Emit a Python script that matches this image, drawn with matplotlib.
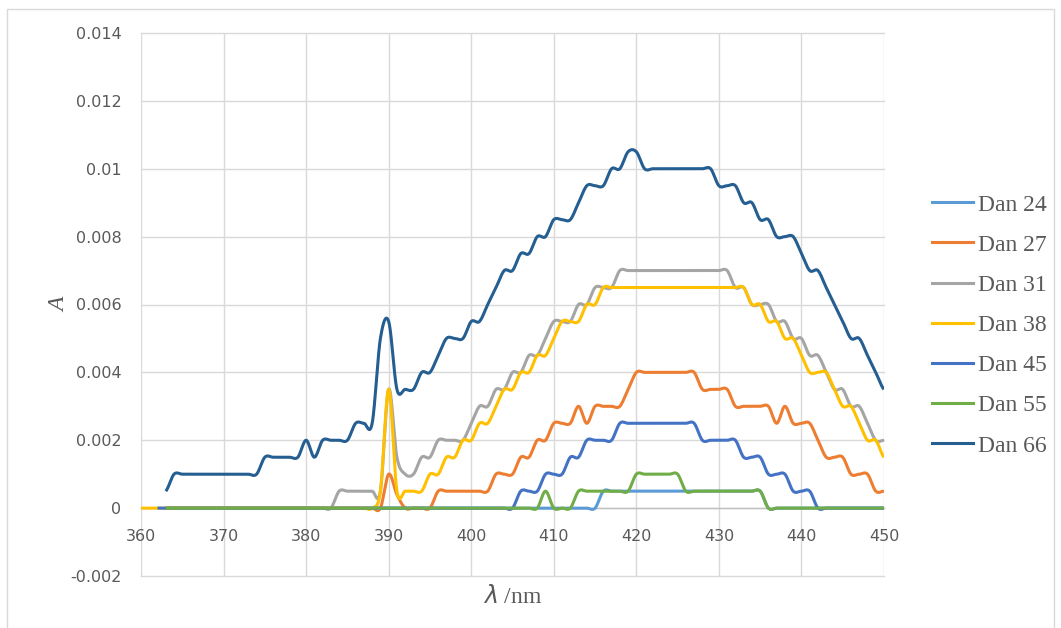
import numpy as np
import matplotlib
matplotlib.use("Agg")
import matplotlib.pyplot as plt
from matplotlib.patches import Rectangle
from matplotlib.lines import Line2D

# ---------------- data (1 nm steps) ----------------
series_names = ["Dan 24", "Dan 27", "Dan 31", "Dan 38", "Dan 45", "Dan 55", "Dan 66"]
series_colors = ["#5B9BD5", "#ED7D31", "#A5A5A5", "#FFC000", "#4472C4", "#70AD47", "#255E91"]

start_dan24 = 363
dan24 = [
    0, 0, 0, 0, 0, 0, 0, 0, 0, 0,                # 363-372
    0, 0, 0, 0, 0, 0, 0, 0, 0, 0,                # 373-382
    0, 0, 0, 0, 0, 0, 0, 0, 0, 0,                # 383-392
    0, 0, 0, 0, 0, 0, 0, 0, 0, 0,                # 393-402
    0, 0, 0, 0, 0, 0, 0, 0, 0, 0,                # 403-412
    0, 0, 0, 0.0005, 0.0005, 0.0005, 0.0005, 0.0005, 0.0005, 0.0005,   # 413-422
    0.0005, 0.0005, 0.0005, 0.0005, 0.0005, 0.0005, 0.0005, 0.0005, 0.0005, 0.0005,  # 423-432
    0.0005, 0.0005, 0.0005, 0, 0, 0, 0, 0, 0, 0,  # 433-442
    0, 0, 0, 0, 0, 0, 0, 0,                      # 443-450
]

start_dan27 = 363
dan27 = [
    0, 0, 0, 0, 0, 0, 0, 0, 0, 0,                # 363-372
    0, 0, 0, 0, 0, 0, 0, 0, 0, 0,                # 373-382
    0, 0, 0, 0, 0, 0, 0, 0.001, 0.0004, 0,       # 383-392
    0, 0, 0, 0.0005, 0.0005, 0.0005, 0.0005, 0.0005, 0.0005, 0.0005,  # 393-402
    0.001, 0.001, 0.001, 0.0015, 0.0015, 0.002, 0.002, 0.0025, 0.0025, 0.0025,  # 403-412
    0.003, 0.0025, 0.003, 0.003, 0.003, 0.003, 0.0035, 0.004, 0.004, 0.004,  # 413-422
    0.004, 0.004, 0.004, 0.004, 0.004, 0.0035, 0.0035, 0.0035, 0.0035, 0.003,  # 423-432
    0.003, 0.003, 0.003, 0.003, 0.0025, 0.003, 0.0025, 0.0025, 0.0025, 0.002,  # 433-442
    0.0015, 0.0015, 0.0015, 0.001, 0.001, 0.001, 0.0005, 0.0005,  # 443-450
]

start_dan31 = 363
dan31 = [
    0, 0, 0, 0, 0, 0, 0, 0, 0, 0,                # 363-372
    0, 0, 0, 0, 0, 0, 0, 0, 0, 0,                # 373-382
    0, 0.0005, 0.0005, 0.0005, 0.0005, 0.0005, 0.0005, 0.0035, 0.0015, 0.001,  # 383-392
    0.001, 0.0015, 0.0015, 0.002, 0.002, 0.002, 0.002, 0.0025, 0.003, 0.003,  # 393-402
    0.0035, 0.0035, 0.004, 0.004, 0.0045, 0.0045, 0.005, 0.0055, 0.0055, 0.0055,  # 403-412
    0.006, 0.006, 0.0065, 0.0065, 0.0065, 0.007, 0.007, 0.007, 0.007, 0.007,  # 413-422
    0.007, 0.007, 0.007, 0.007, 0.007, 0.007, 0.007, 0.007, 0.007, 0.0065,  # 423-432
    0.0065, 0.006, 0.006, 0.006, 0.0055, 0.0055, 0.005, 0.005, 0.0045, 0.0045,  # 433-442
    0.004, 0.0035, 0.0035, 0.003, 0.003, 0.0025, 0.002, 0.002,  # 443-450
]

start_dan38 = 360
dan38 = [
    0, 0, 0,                                     # 360-362
    0, 0, 0, 0, 0, 0, 0, 0, 0, 0,                # 363-372
    0, 0, 0, 0, 0, 0, 0, 0, 0, 0,                # 373-382
    0, 0, 0, 0, 0, 0, 0.0005, 0.0035, 0.0005, 0.0005,  # 383-392
    0.0005, 0.0005, 0.001, 0.001, 0.0015, 0.0015, 0.002, 0.002, 0.0025, 0.0025,  # 393-402
    0.003, 0.0035, 0.0035, 0.004, 0.004, 0.0045, 0.0045, 0.005, 0.0055, 0.0055,  # 403-412
    0.0055, 0.006, 0.006, 0.0065, 0.0065, 0.0065, 0.0065, 0.0065, 0.0065, 0.0065,  # 413-422
    0.0065, 0.0065, 0.0065, 0.0065, 0.0065, 0.0065, 0.0065, 0.0065, 0.0065, 0.0065,  # 423-432
    0.0065, 0.006, 0.006, 0.0055, 0.0055, 0.005, 0.005, 0.0045, 0.004, 0.004,  # 433-442
    0.004, 0.0035, 0.003, 0.003, 0.0025, 0.002, 0.002, 0.0015,  # 443-450
]

start_dan45 = 362
dan45 = [
    0,                                           # 362
    0, 0, 0, 0, 0, 0, 0, 0, 0, 0,                # 363-372
    0, 0, 0, 0, 0, 0, 0, 0, 0, 0,                # 373-382
    0, 0, 0, 0, 0, 0, 0, 0, 0, 0,                # 383-392
    0, 0, 0, 0, 0, 0, 0, 0, 0, 0,                # 393-402
    0, 0, 0, 0.0005, 0.0005, 0.0005, 0.001, 0.001, 0.001, 0.0015,  # 403-412
    0.0015, 0.002, 0.002, 0.002, 0.002, 0.0025, 0.0025, 0.0025, 0.0025, 0.0025,  # 413-422
    0.0025, 0.0025, 0.0025, 0.0025, 0.0025, 0.002, 0.002, 0.002, 0.002, 0.002,  # 423-432
    0.0015, 0.0015, 0.0015, 0.001, 0.001, 0.001, 0.0005, 0.0005, 0.0005, 0,  # 433-442
    0, 0, 0, 0, 0, 0, 0, 0,                      # 443-450
]

start_dan55 = 363
dan55 = [
    0, 0, 0, 0, 0, 0, 0, 0, 0, 0,                # 363-372
    0, 0, 0, 0, 0, 0, 0, 0, 0, 0,                # 373-382
    0, 0, 0, 0, 0, 0, 0, 0, 0, 0,                # 383-392
    0, 0, 0, 0, 0, 0, 0, 0, 0, 0,                # 393-402
    0, 0, 0, 0, 0, 0, 0.0005, 0, 0, 0,           # 403-412
    0.0005, 0.0005, 0.0005, 0.0005, 0.0005, 0.0005, 0.0005, 0.001, 0.001, 0.001,  # 413-422
    0.001, 0.001, 0.001, 0.0005, 0.0005, 0.0005, 0.0005, 0.0005, 0.0005, 0.0005,  # 423-432
    0.0005, 0.0005, 0.0005, 0, 0, 0, 0, 0, 0, 0,  # 433-442
    0, 0, 0, 0, 0, 0, 0, 0,                      # 443-450
]

start_dan66 = 363
dan66 = [
    0.0005, 0.001, 0.001, 0.001, 0.001, 0.001, 0.001, 0.001, 0.001, 0.001,  # 363-372
    0.001, 0.001, 0.0015, 0.0015, 0.0015, 0.0015, 0.0015, 0.002, 0.0015, 0.002,  # 373-382
    0.002, 0.002, 0.002, 0.0025, 0.0025, 0.0025, 0.005, 0.0055, 0.0035, 0.0035,  # 383-392
    0.0035, 0.004, 0.004, 0.0045, 0.005, 0.005, 0.005, 0.0055, 0.0055, 0.006,  # 393-402
    0.0065, 0.007, 0.007, 0.0075, 0.0075, 0.008, 0.008, 0.0085, 0.0085, 0.0085,  # 403-412
    0.009, 0.0095, 0.0095, 0.0095, 0.01, 0.01, 0.0105, 0.0105, 0.01, 0.01,  # 413-422
    0.01, 0.01, 0.01, 0.01, 0.01, 0.01, 0.01, 0.0095, 0.0095, 0.0095,  # 423-432
    0.009, 0.009, 0.0085, 0.0085, 0.008, 0.008, 0.008, 0.0075, 0.007, 0.007,  # 433-442
    0.0065, 0.006, 0.0055, 0.005, 0.005, 0.0045, 0.004, 0.0035,  # 443-450
]

series_starts = [start_dan24, start_dan27, start_dan31, start_dan38, start_dan45, start_dan55, start_dan66]
series_values = [dan24, dan27, dan31, dan38, dan45, dan55, dan66]

x_ticks = [360, 370, 380, 390, 400, 410, 420, 430, 440, 450]
y_ticks = [-0.002, 0, 0.002, 0.004, 0.006, 0.008, 0.01, 0.012, 0.014]
y_tick_labels = ["-0.002", "0", "0.002", "0.004", "0.006", "0.008", "0.01", "0.012", "0.014"]


def smooth(x, y, n=24):
    """Excel-like smoothed line (uniform Catmull-Rom through the points)."""
    x = np.asarray(x, float)
    y = np.asarray(y, float)
    xp = np.concatenate([[2 * x[0] - x[1]], x, [2 * x[-1] - x[-2]]])
    yp = np.concatenate([[y[0]], y, [y[-1]]])
    t = np.linspace(0, 1, n, endpoint=False)
    xs, ys = [], []
    for i in range(1, len(x)):
        for arr, out in ((xp, xs), (yp, ys)):
            p0, p1, p2, p3 = arr[i - 1], arr[i], arr[i + 1], arr[i + 2]
            out.append(0.5 * (2 * p1 + (-p0 + p2) * t
                              + (2 * p0 - 5 * p1 + 4 * p2 - p3) * t ** 2
                              + (-p0 + 3 * p1 - 3 * p2 + p3) * t ** 3))
    xs.append([x[-1]])
    ys.append([y[-1]])
    return np.concatenate(xs), np.concatenate(ys)


W, H = 1061, 628
fig = plt.figure(figsize=(W / 100, H / 100), dpi=100)
fig.patch.set_facecolor("white")

# outer chart border
fig.add_artist(Rectangle((7 / W, -0.05), (1054 - 7) / W, 1 - 9 / H + 0.05,
                         transform=fig.transFigure, fill=False,
                         edgecolor="#D9D9D9", linewidth=1.0))

L, R, T, B = 141, 884, 33, 576
ax = fig.add_axes([L / W, 1 - B / H, (R - L) / W, (B - T) / H])

grid_color = "#D9D9D9"
text_color = "#595959"
tick_font = ["DejaVu Sans"]
serif_font = ["Liberation Serif", "DejaVu Serif"]

handles = []
for name, color, st, vals in zip(series_names, series_colors, series_starts, series_values):
    xs = np.arange(st, st + len(vals))
    sx, sy = smooth(xs, vals)
    ax.plot(sx, sy, color=color, lw=2.2, solid_capstyle="butt", zorder=3)
    handles.append(Line2D([], [], color=color, lw=2.2, label=name))

ax.set_xlim(360, 450)
ax.set_ylim(-0.002, 0.014)
ax.set_xticks(x_ticks)
ax.set_yticks(y_ticks)
ax.set_yticklabels(y_tick_labels)
ax.grid(True, color=grid_color, lw=1.0, zorder=0)
for gl in ax.get_xgridlines() + ax.get_ygridlines():
    gl.set_clip_on(False)
for s in ["top", "right", "left"]:
    ax.spines[s].set_visible(False)
ax.spines["bottom"].set_position(("data", 0))
ax.spines["bottom"].set_color("#BFBFBF")
ax.spines["bottom"].set_linewidth(1.0)
ax.tick_params(axis="both", length=0, labelsize=11.5, labelcolor=text_color)
ax.tick_params(axis="x", pad=15)
ax.tick_params(axis="y", pad=14)
for lab in ax.get_xticklabels() + ax.get_yticklabels():
    lab.set_fontfamily(tick_font)

plt.rcParams["mathtext.fontset"] = "stix"
ax.set_xlabel(r"$\mathit{\lambda}$ /nm", fontsize=17, color=text_color,
              fontfamily=serif_font)
ax.xaxis.set_label_coords(0.5, -(585 - B) / (B - T))
ax.set_ylabel("A", fontsize=17, color=text_color, fontfamily=serif_font,
              fontstyle="italic")
ax.yaxis.set_label_coords(-(L - 70) / (R - L), 0.5)

leg = ax.legend(handles=handles, loc="upper left",
                bbox_to_anchor=(932 / W, 1 - 194 / H), bbox_transform=fig.transFigure,
                frameon=False, borderpad=0, borderaxespad=0,
                handlelength=1.75, handletextpad=0.2, labelspacing=0.79,
                prop={"family": serif_font, "size": 17})
for t in leg.get_texts():
    t.set_color(text_color)

fig.savefig("out.png", dpi=100, facecolor="white")
